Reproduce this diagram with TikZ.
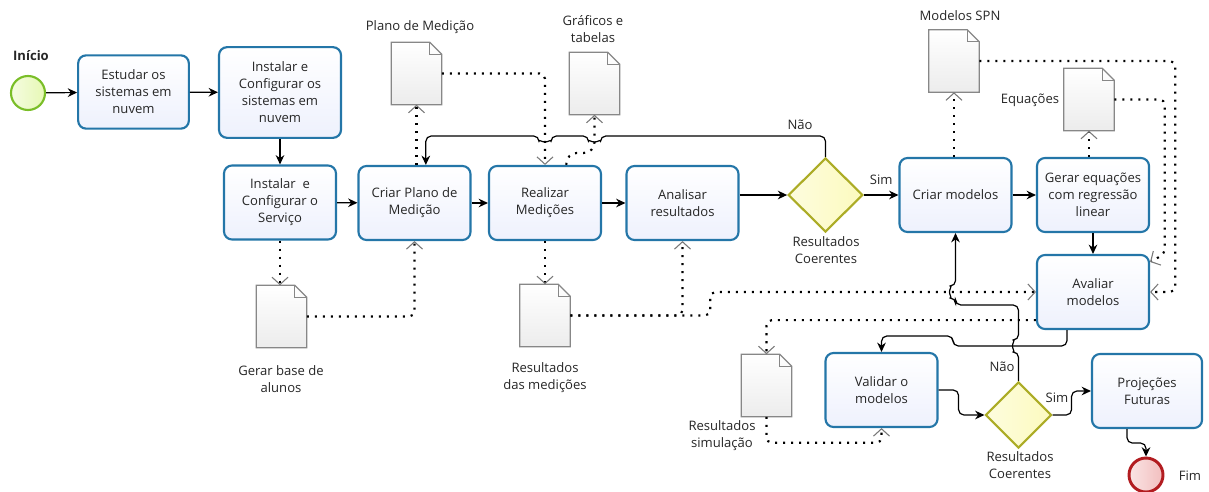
\documentclass[tikz,border=0pt]{standalone}
\usepackage{fontspec}
\setmainfont{Open Sans}
\usetikzlibrary{arrows.meta,shapes.geometric}
\definecolor{taskblue}{RGB}{36,118,168}
\definecolor{tasklav}{RGB}{238,241,253}
\definecolor{gateolive}{RGB}{172,172,38}
\definecolor{gatecream}{RGB}{252,250,190}
\definecolor{startgreen}{RGB}{122,190,40}
\definecolor{startlime}{RGB}{230,248,180}
\definecolor{endred}{RGB}{178,28,32}
\definecolor{endpink}{RGB}{242,190,190}
\definecolor{docgray}{RGB}{135,135,135}
\definecolor{docfill}{RGB}{236,236,236}
\definecolor{tipgray}{RGB}{120,120,120}
\newcommand{\bpmnfont}{\fontsize{9.8}{12.75}\selectfont}
\newcommand{\docpage}[2]{%
  \node[docbox] (#1) at (#2) {};
  \path[docline, top color=white, bottom color=docfill] (#1.north west) -- ([xshift=-9pt]#1.north east) -- ([yshift=-9pt]#1.north east) -- (#1.south east) -- (#1.south west) -- cycle;
  \draw[docline] ([xshift=-9pt]#1.north east) |- ([yshift=-9pt]#1.north east);
}
\tikzset{%
    task/.style={draw=taskblue, line width=1.6pt, rounded corners=6pt, top color=white, bottom color=tasklav,
        minimum width=84pt, minimum height=55.5pt, align=center, inner sep=2pt, font=\bpmnfont, text=black!85},
    gate/.style={diamond, draw=gateolive, line width=1.6pt, left color=white!50!gatecream, right color=gatecream,
        minimum width=56pt, minimum height=55.5pt, inner sep=0pt},
    startevt/.style={circle, draw=startgreen, line width=1.6pt, left color=white!60!startlime, right color=startlime,
        minimum size=25.5pt, inner sep=0pt},
    endevt/.style={circle, draw=endred, line width=2.2pt, left color=white!60!endpink, right color=endpink,
        minimum size=25.5pt, inner sep=0pt},
    docbox/.style={minimum width=37.5pt, minimum height=46.5pt, inner sep=0pt},
    docline/.style={draw=docgray, line width=1pt},
    lbl/.style={font=\bpmnfont, align=center, inner sep=0pt, text=black!85},
    flow/.style={draw=black, line width=0.9pt, rounded corners=4pt, -{Stealth[length=7pt,width=6.5pt]}},
    assoc/.style={line width=1.6pt, dash pattern=on 1.6pt off 4.4pt, rounded corners=4pt,
        -{Straight Barb[length=5.5pt,width=12pt,line width=0.8pt,color=tipgray]}}
}
\begin{document}
\begin{tikzpicture}[x=0.75pt,y=-0.75pt]
    \useasboundingbox (0,0) rectangle (1209,492);
    % eventos e tarefas
    \node[startevt] (inicio) at (28,93) {};
    \node[lbl, font=\bpmnfont\bfseries] (lblinicio) at (31,56) {Início};
    \node[task, minimum width=83pt, minimum height=55pt] (estudar) at (133.5,92) {Estudar os\\sistemas em\\nuvem};
    \node[task, minimum width=91.5pt, minimum height=68pt] (instalar) at (280,92.5) {Instalar e\\Configurar os\\sistemas em\\nuvem};
    \node[task] (servico) at (280,202.5) {Instalar\ \ e\\Configurar o\\Serviço};
    \node[task] (criarplano) at (414.5,203) {Criar Plano de\\Medição};
    \node[task] (realizar) at (545,203) {Realizar\\Medições};
    \node[task] (analisar) at (682.5,203) {Analisar\\resultados};
    \node[gate] (coerente) at (825.5,195) {};
    \node[lbl] (lblcoerente) at (826,250) {Resultados\\Coerentes};
    \node[task] (criarmod) at (955.5,195) {Criar modelos};
    \node[task] (gerareq) at (1093,195) {Gerar equações\\com regressão\\linear};
    \node[task] (avaliar) at (1093,292) {Avaliar\\modelos};
    \node[task] (validar) at (881.5,390) {Validar o\\modelos};
    \node[gate, minimum width=49.5pt, minimum height=49.5pt] (coerente2) at (1018.5,415) {};
    \node[lbl] (lblcoerente2) at (1020,465) {Resultados\\Coerentes};
    \node[task, minimum width=82.5pt] (projecoes) at (1147,391) {Projeções\\Futuras};
    \node[endevt] (fim) at (1146,475) {};
    \node[lbl] (lblfim) at (1190,476) {Fim};
    % documentos
    \docpage{planodoc}{416.5,73.5}
    \docpage{graficosdoc}{594.5,83.5}
    \docpage{modelosdoc}{954,61}
    \docpage{equacoesdoc}{1089,99.5}
    \docpage{basedoc}{281.5,316.5}
    \docpage{medicoesdoc}{545,315.5}
    \docpage{simuldoc}{766.5,385.5}
    \node[lbl] (lblplano) at (420,27) {Plano de Medição};
    \node[lbl] (lblgraficos) at (593,29) {Gráficos e\\tabelas};
    \node[lbl] (lblmodelos) at (960,16) {Modelos SPN};
    \node[lbl] (lblequacoes) at (1030,100) {Equações};
    \node[lbl] (lblbase) at (281,379) {Gerar base de\\alunos};
    \node[lbl] (lblmedicoes) at (545,378) {Resultados\\das medições};
    \node[lbl] (lblsimul) at (722,436) {Resultados\\simulação};
    % fluxo
    \draw[flow] (inicio) -- (estudar);
    \draw[flow] (estudar) -- (instalar);
    \draw[flow] (instalar) -- (servico);
    \draw[flow] (servico) -- (criarplano);
    \draw[flow] (criarplano) -- (realizar);
    \draw[flow] (realizar) -- (analisar);
    \draw[flow] (analisar.east |- coerente.west) -- (coerente.west);
    \draw[flow] (coerente) -- node[lbl, above=7pt] (lblsim) {Sim} (criarmod);
    \draw[flow] (criarmod) -- (gerareq);
    \draw[flow] (gerareq) -- (avaliar);
    \coordinate (naoy) at (0,136);
    \coordinate (jumpa) at (graficosdoc.south |- naoy);
    \coordinate (jumpb) at (realizar.north |- naoy);
    \coordinate (naoin) at ([xshift=8.5pt]criarplano.north);
    \draw[flow] (coerente.north) |- ([xshift=4.5pt]jumpa) arc[start angle=0,end angle=180,radius=6]
        -- ([xshift=4.5pt]jumpb) arc[start angle=0,end angle=180,radius=6] -- (naoin |- naoy) -- (naoin);
    \node[lbl] (lblnao) at (800,125) {Não};
    \coordinate (dogleg) at (953,346);
    \draw[flow] ([xshift=-19.5pt]avaliar.south) |- (dogleg) -- ++(0,-10) -| (validar.north);
    \coordinate (jumpc) at (coerente2.north |- dogleg);
    \coordinate (jumpd) at (criarmod.south |- avaliar.west);
    \coordinate (naobend) at (0,305);
    \draw[flow] (coerente2.north) -- ([yshift=-4.5pt]jumpc) arc[start angle=90,end angle=270,radius=6]
        -- (coerente2.north |- naobend) -- (criarmod.south |- naobend) -- ([yshift=-4.5pt]jumpd)
        arc[start angle=90,end angle=270,radius=6] -- (criarmod.south);
    \node[lbl] (lblnao2) at (1002,367) {Não};
    \draw[flow] (validar.east) -- ++(20,0) |- (coerente2.west);
    \draw[flow] (coerente2.east) -- ++(19,0) |- (projecoes.west);
    \node[lbl] (lblsim2) at (1057,398) {Sim};
    \draw[flow] ([xshift=-15pt]projecoes.south) -- ++(0,14) -| (fim.north);
    % associacoes
    \draw[assoc] (servico.south) -- (servico.south |- basedoc.north);
    \draw[assoc] (basedoc.east) -| (criarplano.south);
    \draw[assoc] (realizar.south) -- (medicoesdoc.north);
    \draw[assoc] (medicoesdoc.east) -| (analisar.south);
    \draw[assoc] (medicoesdoc.east) -- ++(140,0) |- (avaliar.west);
    \draw[assoc] (planodoc.south |- criarplano.north) -- (planodoc.south);
    \draw[assoc] (planodoc.east) -| (realizar.north);
    \draw[assoc, rounded corners=8pt] ([xshift=16pt]realizar.north) -- ++(0,-12) -| (graficosdoc.south);
    \draw[assoc] (modelosdoc.south |- criarmod.north) -- (modelosdoc.south);
    \draw[assoc] (modelosdoc.east) -- ++(196,0) |- (avaliar.east);
    \draw[assoc] (equacoesdoc.south |- gerareq.north) -- (equacoesdoc.south);
    \draw[assoc] (equacoesdoc.east) -| ([xshift=11pt]avaliar.north east) -- ([yshift=-6pt]avaliar.north east);
    \draw[assoc] ([yshift=7.5pt]avaliar.south west) -| (simuldoc.north);
    \draw[assoc] (simuldoc.south) -- ++(0,26) -| (validar.south);
\end{tikzpicture}
\end{document}
